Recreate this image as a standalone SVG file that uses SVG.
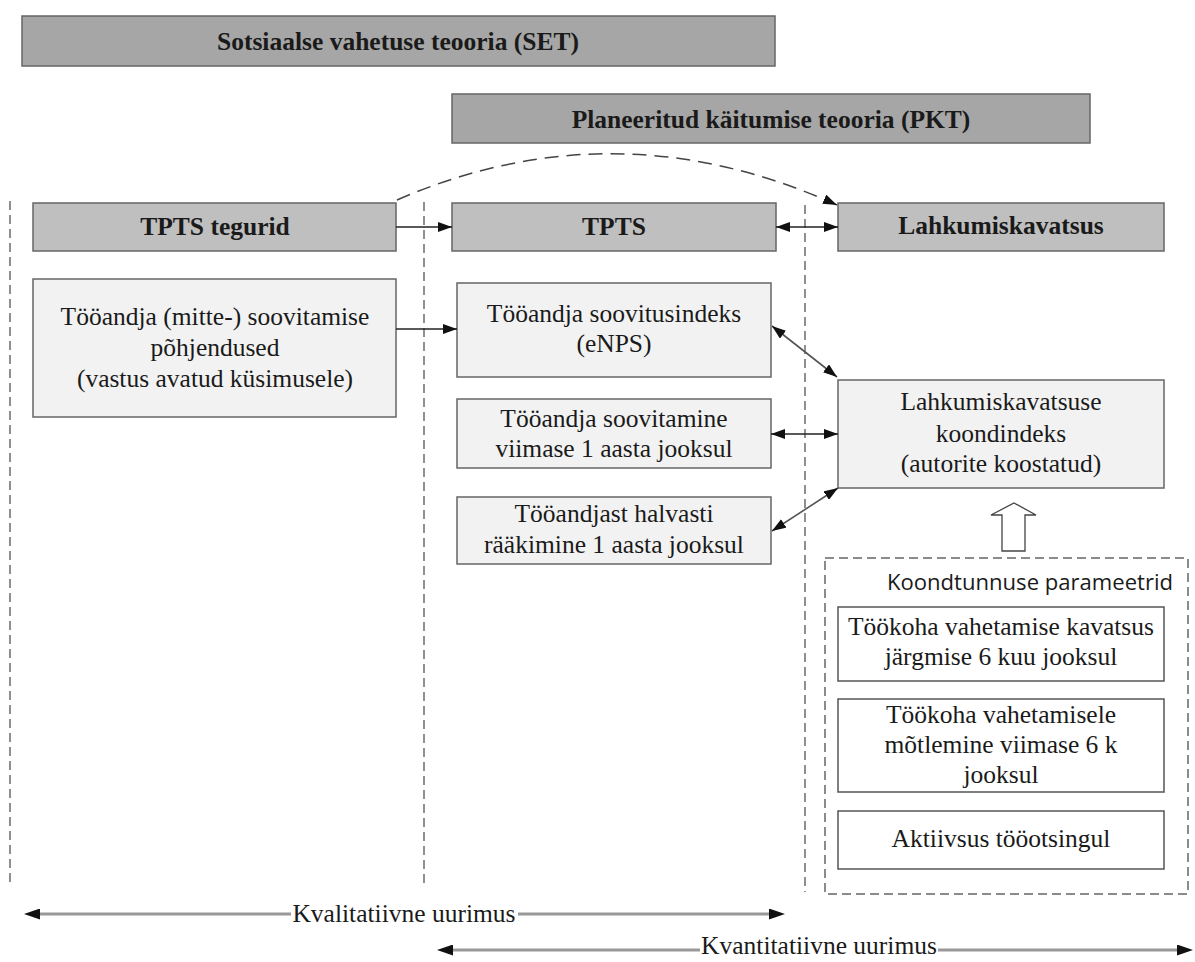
<svg xmlns="http://www.w3.org/2000/svg" width="1195" height="962" viewBox="0 0 1195 962">
<defs>
<marker id="ah" markerUnits="userSpaceOnUse" markerWidth="14" markerHeight="10" refX="14" refY="5" orient="auto-start-reverse"><path d="M0,0 L14,5 L0,10 z" fill="#111"/></marker>
<marker id="ahb" markerUnits="userSpaceOnUse" markerWidth="16" markerHeight="11" refX="2" refY="5.5" orient="auto-start-reverse"><path d="M0,0 L16,5.5 L0,11 z" fill="#111"/></marker>
</defs>
<style>
.t{font-family:"Liberation Serif","Times New Roman",serif;font-size:25.5px;fill:#1a1a1a;text-anchor:middle}
.b{font-weight:bold}
.hd{fill:#a6a6a6;stroke:#666;stroke-width:1.5}
.h2{fill:#bfbfbf;stroke:#666;stroke-width:1.5}
.lt{fill:#f2f2f2;stroke:#666;stroke-width:1.5}
.wh{fill:#fff;stroke:#555;stroke-width:1.5}
.vd{stroke:#555;stroke-width:1.3;stroke-dasharray:9 5;fill:none}
.c{stroke:#222;stroke-width:1.3;fill:none}
.cg{stroke:#555;stroke-width:1.6;fill:none}
.bl{stroke:#999;stroke-width:3;fill:none}
</style>
<g id="set"><rect class="hd" x="22" y="16" width="753" height="50"/><text class="t b" x="398" y="50">Sotsiaalse vahetuse teooria (SET)</text></g>
<g id="pkt"><rect class="hd" x="452" y="94" width="638" height="49"/><text class="t b" x="771" y="128">Planeeritud käitumise teooria (PKT)</text></g>
<g id="dividers">
<line class="vd" x1="10" y1="201" x2="10" y2="883"/>
<line class="vd" x1="424" y1="202" x2="424" y2="888"/>
<line class="vd" x1="805" y1="205" x2="805" y2="892"/>
</g>
<g id="tpts-tegurid"><rect class="h2" x="33" y="203" width="363" height="48"/><text class="t b" x="215" y="235">TPTS tegurid</text></g>
<g id="tpts"><rect class="h2" x="452" y="203" width="324" height="48"/><text class="t b" x="614" y="235">TPTS</text></g>
<g id="lahkumiskavatsus"><rect class="h2" x="838" y="203" width="326" height="48"/><text class="t b" x="1001" y="234">Lahkumiskavatsus</text></g>
<g id="pohjendused"><rect class="lt" x="33" y="279" width="363" height="138"/><text class="t" x="215" y="325">Tööandja (mitte-) soovitamise</text><text class="t" x="215" y="356">põhjendused</text><text class="t" x="215" y="387">(vastus avatud küsimusele)</text></g>
<g id="enps"><rect class="lt" x="457" y="283" width="314" height="94"/><text class="t" x="614" y="322">Tööandja soovitusindeks</text><text class="t" x="614" y="352">(eNPS)</text></g>
<g id="soovitamine"><rect class="lt" x="457" y="399" width="314" height="69"/><text class="t" x="614" y="427">Tööandja soovitamine</text><text class="t" x="614" y="457">viimase 1 aasta jooksul</text></g>
<g id="halvasti"><rect class="lt" x="457" y="497" width="314" height="67"/><text class="t" x="614" y="522">Tööandjast halvasti</text><text class="t" x="614" y="553">rääkimine 1 aasta jooksul</text></g>
<g id="koondindeks"><rect class="lt" x="838" y="380" width="326" height="108"/><text class="t" x="1001" y="410">Lahkumiskavatsuse</text><text class="t" x="1001" y="442">koondindeks</text><text class="t" x="1001" y="472">(autorite koostatud)</text></g>
<g id="parameetrid">
<rect x="825" y="558" width="363" height="336" fill="none" stroke="#666" stroke-width="1.5" stroke-dasharray="9 5"/>
<text x="887" y="590" font-family="'Open Sans','Liberation Sans',sans-serif" font-size="21" fill="#1a1a1a" textLength="286" lengthAdjust="spacingAndGlyphs">Koondtunnuse parameetrid</text>
</g>
<g id="p1"><rect class="wh" x="838" y="607" width="326" height="74"/><text class="t" x="1001" y="635">Töökoha vahetamise kavatsus</text><text class="t" x="1001" y="665">järgmise 6 kuu jooksul</text></g>
<g id="p2"><rect class="wh" x="838" y="699" width="326" height="93"/><text class="t" x="1001" y="723">Töökoha vahetamisele</text><text class="t" x="1001" y="753">mõtlemine viimase 6 k</text><text class="t" x="1001" y="783">jooksul</text></g>
<g id="p3"><rect class="wh" x="838" y="811" width="326" height="58"/><text class="t" x="1001" y="847">Aktiivsus tööotsingul</text></g>
<g id="connectors">
<path d="M397,200 Q615,105 837,205" fill="none" stroke="#444" stroke-width="1.5" stroke-dasharray="14 8" marker-end="url(#ah)"/>
<line class="c" x1="396" y1="227" x2="452" y2="227" marker-end="url(#ah)"/>
<line class="c" x1="776" y1="227" x2="838" y2="227" marker-start="url(#ah)" marker-end="url(#ah)"/>
<line class="c" x1="396" y1="329" x2="457" y2="329" marker-end="url(#ah)"/>
<line class="cg" x1="772" y1="326" x2="837" y2="377" marker-start="url(#ah)" marker-end="url(#ah)"/>
<line class="c" x1="771" y1="434" x2="838" y2="434" marker-start="url(#ah)" marker-end="url(#ah)"/>
<line class="cg" x1="772" y1="531" x2="838" y2="488" marker-start="url(#ah)" marker-end="url(#ah)"/>
<polygon points="1002,551 1002,515 991,515 1014,503 1036,515 1025,515 1025,551" fill="#fff" stroke="#444" stroke-width="1.3"/>
</g>
<g id="kvalitatiivne">
<line class="bl" x1="38" y1="914" x2="291" y2="914" marker-start="url(#ahb)"/>
<line class="bl" x1="518" y1="914" x2="771" y2="914" marker-end="url(#ahb)"/>
<text class="t" x="404" y="922">Kvalitatiivne uurimus</text>
</g>
<g id="kvantitatiivne">
<line class="bl" x1="451" y1="950" x2="700" y2="950" marker-start="url(#ahb)"/>
<line class="bl" x1="938" y1="950" x2="1179" y2="950" marker-end="url(#ahb)"/>
<text class="t" x="819" y="954">Kvantitatiivne uurimus</text>
</g>
</svg>
